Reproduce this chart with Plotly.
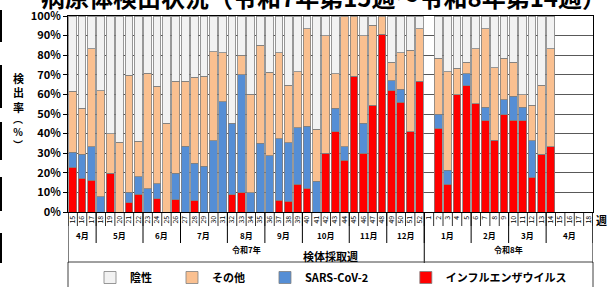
import plotly.graph_objects as go

FONT = "Noto Sans CJK JP"

title_text = "病原体検出状況（令和7年第15週～令和8年第14週）"

weeks_r7 = ["15", "16", "17", "18", "19", "20", "21", "22", "23", "24", "25", "26", "27", "28",
            "29", "30", "31", "32", "33", "34", "35", "36", "37", "38", "39", "40", "41", "42",
            "43", "44", "45", "46", "47", "48", "49", "50", "51", "52"]
weeks_r8 = ["1", "2", "3", "4", "5", "6", "7", "8", "9", "10", "11", "12", "13", "14",
            "15", "16", "17", "18"]

months = ["4月", "5月", "6月", "7月", "8月", "9月", "10月", "11月", "12月",
          "1月", "2月", "3月", "4月"]
month_weeks = [3, 5, 4, 5, 4, 4, 5, 4, 4, 5, 4, 4, 5]

years = ["令和7年", "令和8年"]
year_weeks = [38, 18]

influenza = [22.8, 17.1, 16.3, 0, 19.9, 0, 4.8, 9.0, 0, 6.8, 0, 6.3, 0, 5.8, 0, 0, 0, 8.7,
             9.8, 0, 0, 0, 5.9, 5.4, 14.1, 12.2, 0, 29.9, 40.9, 26.3, 69.3, 29.9, 54.5, 90.7,
             61.8, 55.9, 40.9, 66.7,
             None, 42.8, 14.1, 59.9, 64.5, 55.3, 46.5, 36.7, 49.7, 46.9, 46.5, 17.8, 29.4, 33.3,
             None, None, None, None]
sars = [7.8, 12.4, 17.1, 7.8, 0, 0, 5.2, 9.0, 11.9, 7.6, 0, 13.6, 33.6, 19.2, 23.3, 36.3, 56.2,
        36.6, 60.2, 9.8, 35.0, 28.7, 31.6, 29.9, 28.9, 31.6, 15.8, 0, 12.1, 7.1, 0, 15.3, 0, 0,
        5.1, 6.7, 0, 0,
        None, 7.1, 7.3, 0, 6.1, 0, 7.0, 0, 7.5, 12.2, 7.0, 18.5, 0, 0,
        None, None, None, None]
other = [31.0, 23.5, 50.0, 54.0, 20.0, 35.7, 59.8, 18.2, 58.9, 49.8, 45.3, 46.8, 33.1, 43.8,
         46.0, 45.5, 25.0, 0, 10.0, 50.2, 50.1, 42.6, 43.7, 29.4, 28.5, 49.7, 26.5, 60.1, 17.6,
         66.6, 30.7, 44.8, 40.9, 9.3, 9.5, 18.6, 41.6, 26.7,
         None, 28.5, 50.1, 13.4, 5.8, 28.1, 39.9, 37.0, 21.2, 17.3, 6.4, 18.2, 35.3, 50.1,
         None, None, None, None]
negative = [38.4, 47.0, 16.6, 38.2, 60.1, 64.3, 30.2, 63.8, 29.2, 35.8, 54.7, 33.3, 33.3, 31.2,
            30.7, 18.2, 18.8, 54.7, 20.0, 40.0, 14.9, 28.7, 18.8, 35.3, 28.5, 6.5, 57.7, 10.0,
            29.4, 0, 0, 10.0, 4.6, 0, 23.6, 18.8, 17.5, 6.6,
            None, 21.6, 28.5, 26.7, 23.6, 16.6, 6.6, 26.3, 21.6, 23.6, 40.1, 45.5, 35.3, 16.6,
            None, None, None, None]

categories = ["R7-" + w for w in weeks_r7] + ["R8-" + w for w in weeks_r8]
week_labels = weeks_r7 + weeks_r8


def clean(vals):
    return [v if v else None for v in vals]


series = [
    ("インフルエンザウイルス", influenza, "#ff0000"),
    ("SARS-CoV-2", sars, "#558ed5"),
    ("その他", other, "#fac090"),
    ("陰性", negative, "#f2f2f2"),
]
pad = {"陰性": 6, "その他": 6, "SARS-CoV-2": 13, "インフルエンザウイルス": 0}

fig = go.Figure()
for name, vals, color in series:
    fig.add_trace(go.Bar(
        x=categories, y=clean(vals), name=name + "\u00a0" * pad[name],
        marker=dict(color=color, line=dict(color="#7f7f7f", width=0.8)),
    ))

W, H = 608, 287
ml, mr, mt, mb = 68, 15, 16, 75
pw, ph = W - ml - mr, H - mt - mb


def py(p):
    return (H - mb - p) / ph


def px(p):
    return (p - ml) / pw


shapes = []
annotations = []


def note(text, x, y, size, xref="paper"):
    annotations.append(dict(x=x, xref=xref, y=y, yref="paper", text=text, showarrow=False,
                            xanchor="center", yanchor="middle",
                            font=dict(size=size, color="black", weight="bold")))


# week separators
for i in range(len(categories) + 1):
    shapes.append(dict(type="line", xref="x", yref="paper", x0=i - 0.5, x1=i - 0.5,
                       y0=0, y1=py(226), line=dict(color="black", width=0.8)))

# month separators and labels
start = 0
for m, n in zip(months, month_weeks):
    note(m, start + (n - 1) / 2, py(235), 8, xref="x")
    start += n
    shapes.append(dict(type="line", xref="x", yref="paper", x0=start - 0.5, x1=start - 0.5,
                       y0=0, y1=py(243), line=dict(color="black", width=1)))

# year separators and labels
start = 0
shapes.append(dict(type="line", xref="x", yref="paper", x0=-0.5, x1=-0.5,
                   y0=0, y1=py(263), line=dict(color="black", width=1)))
for yname, n in zip(years, year_weeks):
    note(yname, start + (n - 1) / 2, py(250), 8, xref="x")
    start += n
    shapes.append(dict(type="line", xref="x", yref="paper", x0=start - 0.5, x1=start - 0.5,
                       y0=0, y1=py(263), line=dict(color="black", width=1)))

note("検体採取週", px(330), py(256), 11)
note("週", px(601), py(220), 11)
note("検<br>出<br>率", px(18), py(92), 11)
note("︵<br>%<br>︶", px(18), py(131), 10)
note(title_text, px(323), py(-4), 24)

# legend box
shapes.append(dict(type="rect", xref="paper", yref="paper", x0=0, x1=1, y0=py(262), y1=py(292),
                   line=dict(color="#404040", width=1), fillcolor="rgba(0,0,0,0)"))

# left edge marks
for a, b in [(10, 42), (65, 108), (122, 160), (177, 211), (233, 263)]:
    shapes.append(dict(type="line", xref="paper", yref="paper", x0=px(1), x1=px(1),
                       y0=py(a), y1=py(b), line=dict(color="black", width=2)))

fig.update_layout(
    width=W, height=H,
    margin=dict(l=ml, r=mr, t=mt, b=mb, autoexpand=False),
    barmode="stack", bargap=0.18,
    plot_bgcolor="white", paper_bgcolor="white",
    font=dict(family=FONT, color="black"),
    showlegend=True,
    legend=dict(orientation="h", traceorder="reversed", x=px(90), xanchor="left",
                y=py(263), yanchor="top", font=dict(size=11, weight="bold"),
                bgcolor="rgba(0,0,0,0)", itemclick=False),
    shapes=shapes, annotations=annotations,
    xaxis=dict(type="category", categoryorder="array", categoryarray=categories,
               tickvals=categories, ticktext=week_labels, tickangle=-90,
               tickfont=dict(size=7, color="black"), ticks="",
               showline=True, linecolor="black", linewidth=1, mirror=True,
               showgrid=False, range=[-0.5, len(categories) - 0.5]),
    yaxis=dict(range=[0, 100], dtick=10, ticksuffix="%", showgrid=True,
               gridcolor="#595959", gridwidth=1, showline=True, linecolor="black",
               linewidth=1, mirror=True, ticks="outside", ticklen=4, tickcolor="black",
               tickfont=dict(size=11, color="black", weight="bold"), zeroline=False),
)

fig.write_html("out.html", config={"displayModeBar": False},
               post_script="document.body.style.margin='0';")
